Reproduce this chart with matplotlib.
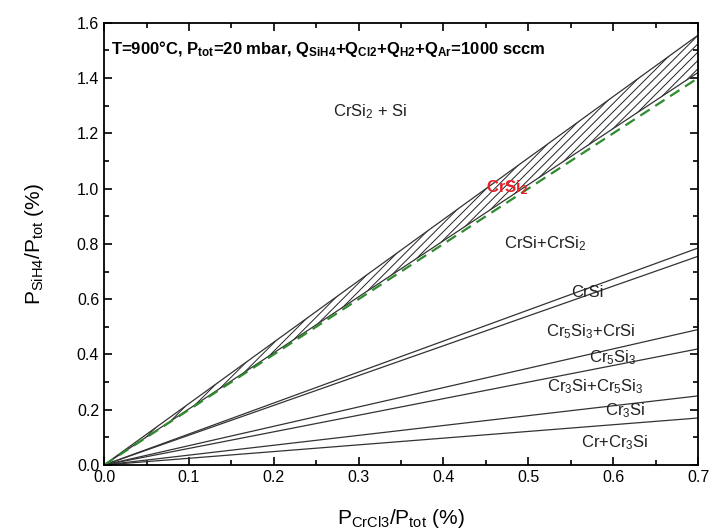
import numpy as np
import matplotlib.pyplot as plt

plt.rcParams['font.family'] = ['Liberation Sans', 'DejaVu Sans']
plt.rcParams['mathtext.default'] = 'regular'
plt.rcParams['hatch.linewidth'] = 0.7

# phase boundary lines: value of P_SiH4/P_tot at P_CrCl3/P_tot = 0.7
x_range = [0.0, 0.7]
crsi2_upper = 1.555
crsi2_lower = 1.42
green_line = 1.40
boundaries = [0.785, 0.755, 0.49, 0.42, 0.25, 0.17]

labels = ['CrSi$_2$ + Si', 'CrSi+CrSi$_2$', 'CrSi', 'Cr$_5$Si$_3$+CrSi', 'Cr$_5$Si$_3$',
          'Cr$_3$Si+Cr$_5$Si$_3$', 'Cr$_3$Si', 'Cr+Cr$_3$Si']
label_x = [0.313, 0.52, 0.570, 0.573, 0.599, 0.579, 0.614, 0.602]
label_y = [1.28, 0.80, 0.625, 0.484, 0.39, 0.284, 0.196, 0.08]

fig = plt.figure(figsize=(7.13, 5.29), dpi=100)
ax = fig.add_axes([0.146, 0.121, 0.833, 0.836])

x = np.array(x_range)
ax.fill_between(x, [0, crsi2_lower], [0, crsi2_upper], facecolor='none',
                edgecolor='#222222', hatch='////', linewidth=0)
ax.plot(x, [0, crsi2_upper], color='#333333', lw=0.9)
ax.plot(x, [0, crsi2_lower], color='#333333', lw=0.9)
for v in boundaries:
    ax.plot(x, [0, v], color='#333333', lw=0.9)
ax.plot(x, [0, green_line], color='#2e8b2e', lw=1.6, ls=(0, (5, 3)))

for t, lx, ly in zip(labels, label_x, label_y):
    ax.text(lx, ly, t, fontsize=12, ha='center', va='center', color='#222222')
ax.text(0.475, 1.005, 'CrSi$_2$', fontsize=12, ha='center', va='center',
        color='#e8202a', fontweight='bold')

ax.text(0.008, 1.505, 'T=900°C, P$_{tot}$=20 mbar, Q$_{SiH4}$+Q$_{Cl2}$+Q$_{H2}$+Q$_{Ar}$=1000 sccm',
        fontsize=12, fontweight='bold', ha='left', va='center')

ax.set_xlim(0, 0.7)
ax.set_ylim(0, 1.6)
ax.set_xticks(np.arange(0, 0.71, 0.1))
ax.set_xticks(np.arange(0.05, 0.7, 0.1), minor=True)
ax.set_yticks(np.arange(0, 1.61, 0.2))
ax.set_yticks(np.arange(0.1, 1.6, 0.2), minor=True)
ax.tick_params(which='both', direction='in', top=True, right=True, labelsize=11.5, width=1.2)
ax.tick_params(which='major', length=6)
ax.tick_params(which='minor', length=3.5)
ax.xaxis.set_major_formatter(plt.FormatStrFormatter('%.1f'))
ax.yaxis.set_major_formatter(plt.FormatStrFormatter('%.1f'))
for s in ax.spines.values():
    s.set_linewidth(1.3)

ax.set_xlabel('P$_{CrCl3}$/P$_{tot}$ (%)', fontsize=15, labelpad=16)
ax.set_ylabel('P$_{SiH4}$/P$_{tot}$ (%)', fontsize=15, labelpad=22)

fig.savefig('out.png', dpi=100)
